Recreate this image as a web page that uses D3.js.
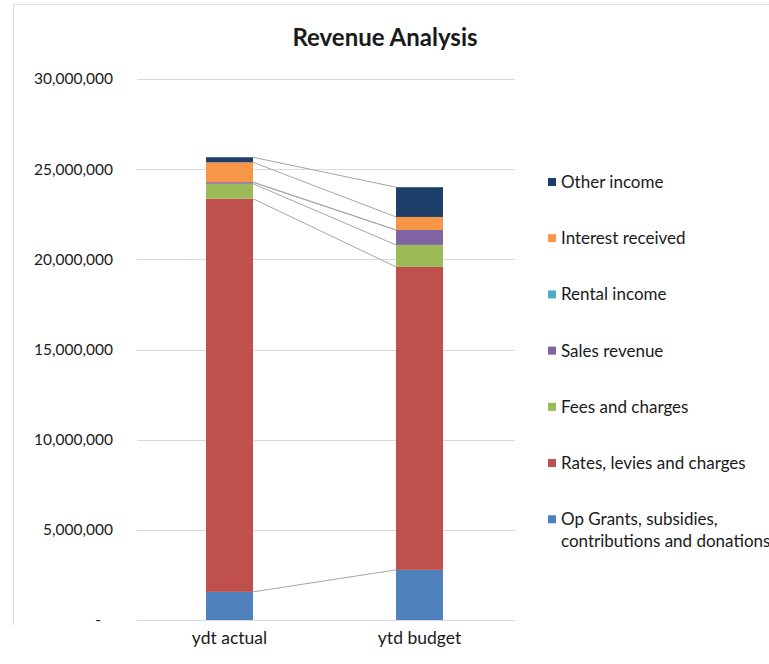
<!DOCTYPE html>
<html>
<head>
<meta charset="utf-8">
<script src="https://cdn.jsdelivr.net/npm/d3@7"></script>
<style>
  html, body { margin: 0; padding: 0; background: #fff; }
  svg { display: block; }
  text { font-family: Lato, "Open Sans", sans-serif; fill: #1a1a1a; }
</style>
</head>
<body>
<svg id="chart" width="769" height="664"></svg>
<script>
// ---- data ----
const categories = ["ydt actual", "ytd budget"];
const seriesNames = [
  "Op Grants, subsidies, contributions and donations",
  "Rates, levies and charges",
  "Fees and charges",
  "Sales revenue",
  "Rental income",
  "Interest received",
  "Other income"
];
const opGrants   = [1560000, 2780000];
const ratesLevies = [21800000, 16800000];
const feesCharges = [830000, 1220000];
const salesRevenue = [90000, 830000];
const rentalIncome = [0, 0];
const interestReceived = [1100000, 720000];
const otherIncome = [280000, 1650000];
const seriesColors = ["#4F81BD", "#C0504D", "#9BBB59", "#8064A2", "#4BACC6", "#F79646", "#1F3F6B"];
const yTicks = [0, 5000000, 10000000, 15000000, 20000000, 25000000, 30000000];
const title = "Revenue Analysis";

const seriesValues = [opGrants, ratesLevies, feesCharges, salesRevenue, rentalIncome, interestReceived, otherIncome];

const table = categories.map((c, i) => {
  const row = { category: c };
  seriesNames.forEach((s, j) => row[s] = seriesValues[j][i]);
  return row;
});

const svg = d3.select("#chart");

// faint frame of the captured chart
svg.append("line").attr("x1", 13.5).attr("x2", 13.5).attr("y1", 4).attr("y2", 625)
  .attr("stroke", "#d9d9d9").attr("stroke-width", 1);
svg.append("line").attr("x1", 13).attr("x2", 769).attr("y1", 4.5).attr("y2", 4.5)
  .attr("stroke", "#e0e0e0").attr("stroke-width", 1);

const plot = { left: 137, right: 515, top: 79, bottom: 620 };

const y = d3.scaleLinear().domain([0, 30000000]).range([plot.bottom, plot.top]);
const x = d3.scaleBand().domain(categories).range([plot.left, 512]).paddingInner(0.7526).paddingOuter(0.363);

// gridlines
svg.append("g").selectAll("line").data(yTicks).join("line")
  .attr("x1", plot.left).attr("x2", plot.right)
  .attr("y1", d => Math.round(y(d)) + 0.5).attr("y2", d => Math.round(y(d)) + 0.5)
  .attr("stroke", "#d9d9d9").attr("stroke-width", 1);

// y axis labels
const yAxis = d3.axisLeft(y).tickValues(yTicks)
  .tickFormat(d => d === 0 ? "-" : d3.format(",")(d))
  .tickSize(0).tickPadding(0);
const yg = svg.append("g").attr("transform", `translate(${plot.left - 24},0)`).call(yAxis);
yg.select(".domain").remove();
yg.selectAll("text").style("font-size", "15.5px").attr("fill", "#1a1a1a")
  .style("font-family", 'Lato, sans-serif')
  .attr("dx", d => d === 0 ? -12 : 0);

// x axis labels
const xAxis = d3.axisBottom(x).tickSize(0).tickPadding(12);
const xg = svg.append("g").attr("transform", `translate(0,${plot.bottom})`).call(xAxis);
xg.select(".domain").remove();
xg.selectAll("text").style("font-size", "17.5px").attr("fill", "#1a1a1a")
  .style("font-family", 'Lato, sans-serif');

// stack
const stacked = d3.stack().keys(seriesNames)(table);

// series lines (connect segment tops between bars)
const lineG = svg.append("g");
stacked.forEach(layer => {
  const a = layer[0], b = layer[1];
  lineG.append("line")
    .attr("x1", x(categories[0]) + x.bandwidth())
    .attr("y1", y(a[1]))
    .attr("x2", x(categories[1]))
    .attr("y2", y(b[1]))
    .attr("stroke", "#a6a6a6").attr("stroke-width", 1);
});

// bars
svg.append("g").selectAll("g").data(stacked).join("g")
  .attr("fill", (d, i) => seriesColors[i])
  .selectAll("rect").data(d => d).join("rect")
  .attr("x", d => x(d.data.category))
  .attr("width", x.bandwidth())
  .attr("y", d => y(d[1]))
  .attr("height", d => y(d[0]) - y(d[1]));

// title
svg.append("text").attr("x", 385).attr("y", 46).attr("text-anchor", "middle")
  .style("font-size", "24px").style("font-weight", "bold").text(title);

// legend (reverse order, top = Other income)
const legendItems = seriesNames.map((s, i) => ({ name: s, color: seriesColors[i] })).reverse();
const lg = svg.append("g");
legendItems.forEach((item, i) => {
  const yy = 182 + i * 56.2;
  lg.append("rect").attr("x", 548).attr("y", yy - 4).attr("width", 8).attr("height", 8).attr("fill", item.color);
  const t = lg.append("text").attr("x", 561).attr("y", yy + 6).style("font-size", "17px");
  if (item.name.startsWith("Op Grants")) {
    t.append("tspan").attr("x", 561).text("Op Grants, subsidies,");
    t.append("tspan").attr("x", 561).attr("dy", 22).text("contributions and donations");
  } else {
    t.text(item.name);
  }
});
</script>
</body>
</html>
